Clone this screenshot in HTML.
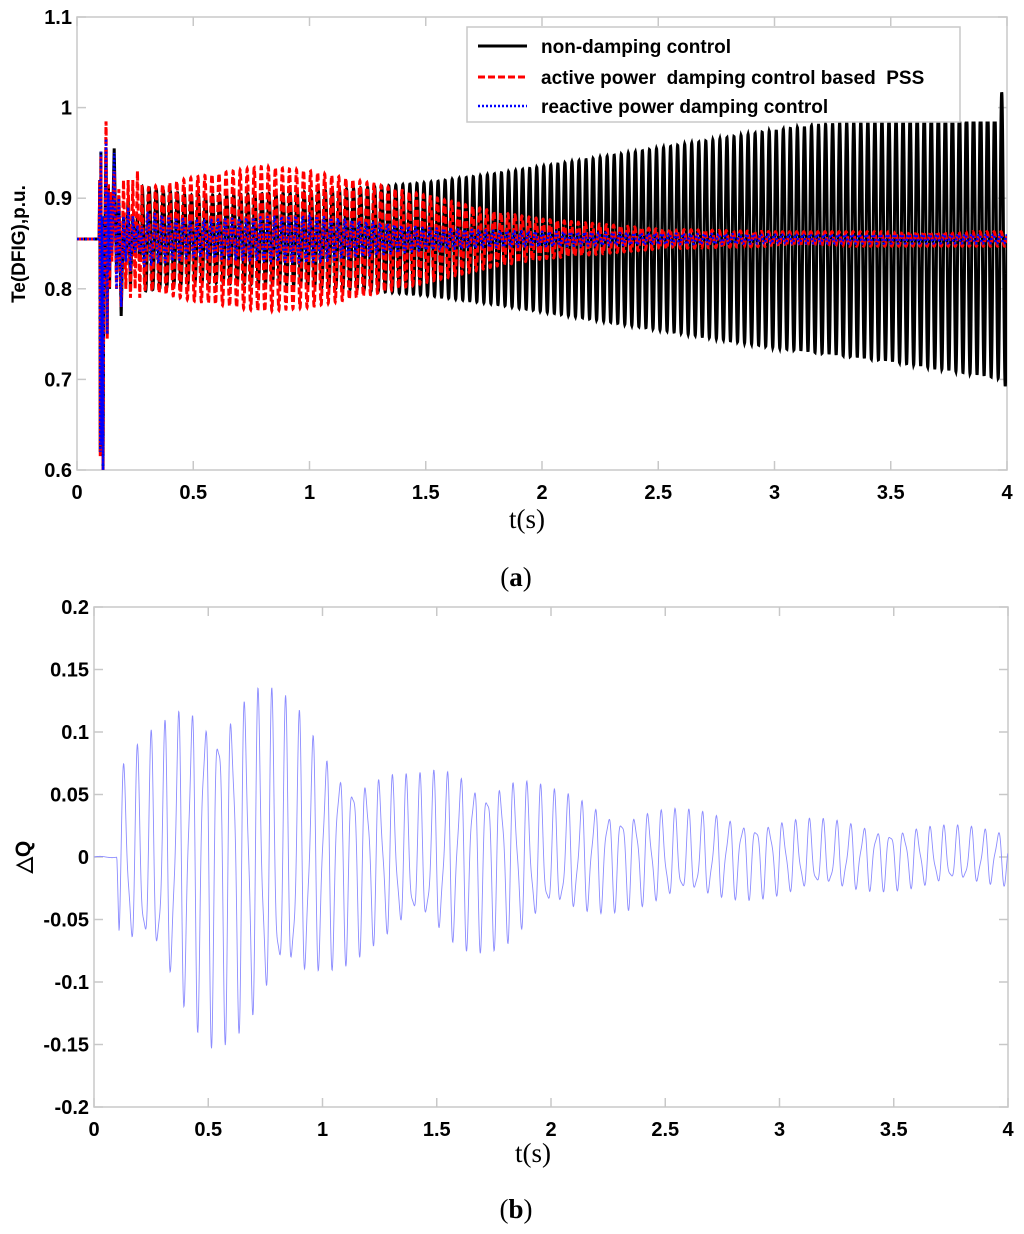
<!DOCTYPE html>
<html><head><meta charset="utf-8"><style>
html,body{margin:0;padding:0;background:#fff;}
svg{display:block;}
.tk{font-family:"Liberation Sans",sans-serif;font-weight:bold;font-size:20px;fill:#000;}
.lg{font-family:"Liberation Sans",sans-serif;font-weight:bold;font-size:19px;fill:#000;}
.sr{font-family:"Liberation Serif",serif;font-size:27px;fill:#000;}
</style></head><body>
<svg id="fig" width="1024" height="1234" viewBox="0 0 1024 1234" xmlns="http://www.w3.org/2000/svg">
<defs>
<clipPath id="clipA"><rect x="77" y="17" width="930" height="453"/></clipPath>
<clipPath id="clipB"><rect x="94" y="607" width="914" height="500"/></clipPath>
</defs>
<g id="chartA"></g>
<g id="chartB"></g>
</svg>
<script>
// ---- Chart (a) data ----
const aXTicks = [0,0.5,1,1.5,2,2.5,3,3.5,4];
const aXLabels = ["0","0.5","1","1.5","2","2.5","3","3.5","4"];
const aYTicks = [0.6,0.7,0.8,0.9,1,1.1];
const aYLabels = ["0.6","0.7","0.8","0.9","1","1.1"];
const steadyValue = 0.855;
const transientT = [0.095,0.098,0.1,0.103,0.105,0.108,0.112,0.115,0.12,0.125,0.13,0.135,0.14,0.145,0.15,0.16,0.17,0.18,0.19,0.2,0.21,0.22,0.23,0.24,0.25,0.26,0.27,0.28];
const transientBlack = [0.855,0.92,0.62,0.975,0.61,0.88,0.6,0.8,0.86,0.96,0.75,0.92,0.8,0.9,0.84,0.955,0.82,0.9,0.77,0.88,0.83,0.9,0.8,0.88,0.84,0.88,0.83,0.87];
const transientRed = [0.855,0.92,0.615,0.97,0.62,0.87,0.6,0.8,0.86,0.99,0.745,0.92,0.8,0.91,0.83,0.93,0.8,0.91,0.78,0.92,0.8,0.92,0.79,0.92,0.8,0.93,0.79,0.92];
const transientBlue = [0.855,0.92,0.62,0.975,0.61,0.88,0.6,0.8,0.86,0.97,0.75,0.91,0.82,0.9,0.84,0.95,0.8,0.9,0.78,0.88,0.83,0.89,0.82,0.88,0.84,0.87,0.84,0.87];
const envT = [0.28,0.5,0.8,1.0,1.2,1.5,1.8,2.0,2.5,3.0,3.5,4.0];
const envBlack = [0.058,0.048,0.05,0.052,0.056,0.062,0.072,0.08,0.1,0.12,0.135,0.155];
const envRed = [0.055,0.068,0.08,0.075,0.065,0.048,0.03,0.022,0.011,0.008,0.008,0.008];
const envBlue = [0.03,0.02,0.024,0.026,0.02,0.012,0.009,0.008,0.006,0.005,0.005,0.005];
const blackClip = 0.983;
const oscFreq = 33;

// ---- Chart (b) data ----
const bXTicks = [0,0.5,1,1.5,2,2.5,3,3.5,4];
const bXLabels = ["0","0.5","1","1.5","2","2.5","3","3.5","4"];
const bYTicks = [-0.2,-0.15,-0.1,-0.05,0,0.05,0.1,0.15,0.2];
const bYLabels = ["-0.2","-0.15","-0.1","-0.05","0","0.05","0.1","0.15","0.2"];
const dqT = [0,0.1,0.11,0.2,0.3,0.4,0.5,0.7,0.9,1.0,1.2,1.4,1.6,1.8,2.0,2.3,2.6,3.0,3.5,4.0];
const dqEnv = [0,0,0.07,0.085,0.1,0.125,0.14,0.135,0.11,0.09,0.07,0.06,0.072,0.068,0.05,0.04,0.035,0.03,0.025,0.022];
const dqFreq = 17;

const NS="http://www.w3.org/2000/svg";
function mk(tag,attrs,parent){const e=document.createElementNS(NS,tag);for(const k in attrs)e.setAttribute(k,attrs[k]);parent.appendChild(e);return e;}
function interp(xs,ys,x){if(x<=xs[0])return ys[0];for(let i=1;i<xs.length;i++){if(x<=xs[i]){const f=(x-xs[i-1])/(xs[i]-xs[i-1]);return ys[i-1]+f*(ys[i]-ys[i-1]);}}return ys[ys.length-1];}

const axA={x0:77,x1:1007,y0:470,y1:17,vmin:0.6,vmax:1.1};
const axB={x0:94,x1:1008,y0:1107,y1:607,vmin:-0.2,vmax:0.2};
function sx(ax,t){return ax.x0+(t/4)*(ax.x1-ax.x0);}
function sy(ax,v){return ax.y0-(v-ax.vmin)/(ax.vmax-ax.vmin)*(ax.y0-ax.y1);}

function drawAxes(g,ax,xt,xl,yt,yl,nm){
  const fr=mk('rect',{x:ax.x0,y:ax.y1,width:ax.x1-ax.x0,height:ax.y0-ax.y1,fill:'#fff',stroke:'#c8c8c8','stroke-width':1.5},g);
  
  
  xt.forEach((t,i)=>{const x=sx(ax,t);
    mk('line',{x1:x,y1:ax.y0,x2:x,y2:ax.y0-9,stroke:'#c8c8c8','stroke-width':1.5},g);
    mk('line',{x1:x,y1:ax.y1,x2:x,y2:ax.y1+9,stroke:'#c8c8c8','stroke-width':1.5},g);
    const tx=mk('text',{x:x,y:ax.y0+29,'text-anchor':'middle',class:'tk'},g);tx.textContent=xl[i];
    
    
  });
  yt.forEach((v,i)=>{const y=sy(ax,v);
    mk('line',{x1:ax.x0,y1:y,x2:ax.x0+9,y2:y,stroke:'#c8c8c8','stroke-width':1.5},g);
    mk('line',{x1:ax.x1,y1:y,x2:ax.x1-9,y2:y,stroke:'#c8c8c8','stroke-width':1.5},g);
    const tx=mk('text',{x:ax.x0-5,y:y+7,'text-anchor':'end',class:'tk'},g);tx.textContent=yl[i];
    
    
  });
}

function seriesA(trV,env,clipHi,phase){
  let d='';const dt=0.0004;
  for(let t=0;t<=4.0001;t+=dt){
    let v;
    if(t<transientT[0])v=steadyValue;
    else if(t<=transientT[transientT.length-1])v=interp(transientT,trV,t);
    else{const a=interp(envT,env,t);v=steadyValue+a*Math.sin(2*Math.PI*oscFreq*t+phase);}
    if(clipHi!==null&&t>2.6&&t<3.97)v=Math.min(v,clipHi);
    if(clipHi!==null&&t>=3.97)v=steadyValue+interp(envT,env,t)*1.05*Math.sin(2*Math.PI*oscFreq*t+phase);
    d+=(d?'L':'M')+sx(axA,t).toFixed(2)+','+sy(axA,v).toFixed(2);
  }
  return d;
}

const gA=document.getElementById('chartA');
drawAxes(gA,axA,aXTicks,aXLabels,aYTicks,aYLabels,'chart-a');
const cgA=mk('g',{'clip-path':'url(#clipA)'},gA);
const pBlack=mk('path',{d:seriesA(transientBlack,envBlack,blackClip,0),fill:'none',stroke:'#000','stroke-width':3},cgA);


const pRed=mk('path',{d:seriesA(transientRed,envRed,null,0.6),fill:'none',stroke:'#ff0000','stroke-width':3,'stroke-dasharray':'7,3'},cgA);


const pBlue=mk('path',{d:seriesA(transientBlue,envBlue,null,1.3),fill:'none',stroke:'#0000ff','stroke-width':2.5,'stroke-dasharray':'2,2'},cgA);



const lg=mk('g',{},gA);


mk('rect',{x:467,y:27,width:493,height:95,fill:'#fff',stroke:'#c8c8c8','stroke-width':1.5},lg);
const legItems=[['non-damping control','#000','none',3,46],['active power  damping control based  PSS','#ff0000','7,3',3,77],['reactive power damping control','#0000ff','2,2',2.5,106]];
legItems.forEach(it=>{
  const e=mk('g',{},lg);
  
  
  const ln=mk('line',{x1:478,y1:it[4],x2:527,y2:it[4],stroke:it[1],'stroke-width':it[3]},e);
  if(it[2]!=='none')ln.setAttribute('stroke-dasharray',it[2]);
  const tx=mk('text',{x:541,y:it[4]+7,class:'lg'},e);tx.textContent=it[0];
  tx.style.whiteSpace='pre';
});
const ylA=mk('text',{x:0,y:0,transform:'translate(25,244) rotate(-90)','text-anchor':'middle',class:'tk',style:'font-size:19px'},gA);
ylA.textContent='Te(DFIG),p.u.';


const xlA=mk('text',{x:527,y:528,'text-anchor':'middle',class:'sr'},gA);xlA.textContent='t(s)';


const capA=mk('text',{x:516,y:586,'text-anchor':'middle',class:'sr'},gA);
capA.innerHTML='(<tspan font-weight="bold">a</tspan>)';



const gB=document.getElementById('chartB');
drawAxes(gB,axB,bXTicks,bXLabels,bYTicks,bYLabels,'chart-b');
const cgB=mk('g',{'clip-path':'url(#clipB)'},gB);
let dB='';
for(let t=0;t<=4.0001;t+=0.0015){
  const a=interp(dqT,dqEnv,t);
  let v=a*(0.85*Math.sin(2*Math.PI*dqFreq*t)+0.25*Math.sin(2*Math.PI*dqFreq*1.9*t+1.0));
  if(t<0.1)v=0.0005*Math.sin(60*t);
  dB+=(dB?'L':'M')+sx(axB,t).toFixed(2)+','+sy(axB,v).toFixed(2);
}
const pQ=mk('path',{d:dB,fill:'none',stroke:'#8c8cff','stroke-width':0.9},cgB);


const ylB=mk('text',{x:0,y:0,transform:'translate(30,857) rotate(-90)','text-anchor':'middle',class:'tk',style:'font-size:21px'},gB);
ylB.textContent='△Q';


const xlB=mk('text',{x:533,y:1162,'text-anchor':'middle',class:'sr'},gB);xlB.textContent='t(s)';


const capB=mk('text',{x:516,y:1218,'text-anchor':'middle',class:'sr'},gB);
capB.innerHTML='(<tspan font-weight="bold">b</tspan>)';


</script>
</body></html>
